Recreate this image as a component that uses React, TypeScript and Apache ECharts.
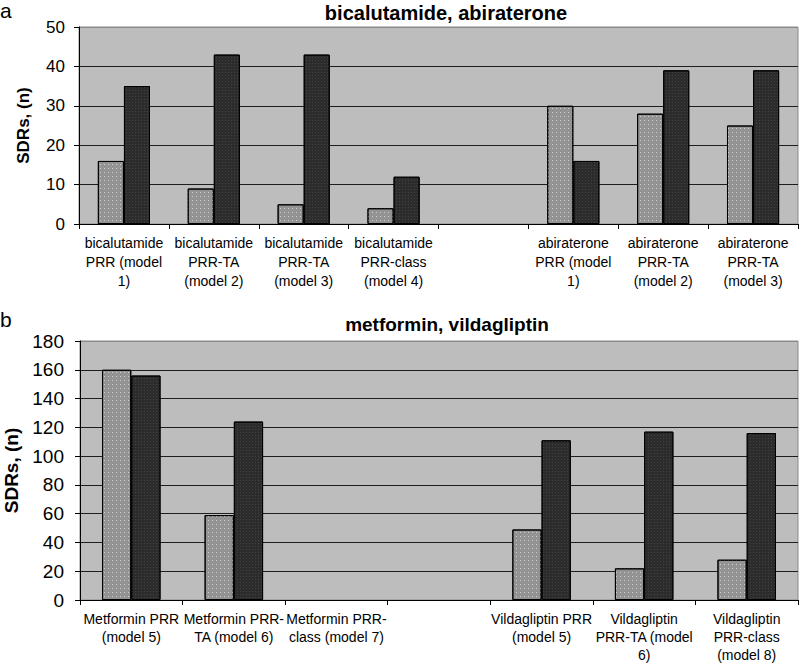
import React, { useEffect, useRef } from "react";
import * as echarts from "echarts";

const topCategories = [
  "bicalutamide\nPRR (model\n1)",
  "bicalutamide\nPRR-TA\n(model 2)",
  "bicalutamide\nPRR-TA\n(model 3)",
  "bicalutamide\nPRR-class\n(model 4)",
  "",
  "abiraterone\nPRR (model\n1)",
  "abiraterone\nPRR-TA\n(model 2)",
  "abiraterone\nPRR-TA\n(model 3)",
];
const topLight = [16, 9, 5, 4, null, 30, 28, 25];
const topDark = [35, 43, 43, 12, null, 16, 39, 39];

const bottomCategories = [
  "Metformin PRR\n(model 5)",
  "Metformin PRR-\nTA (model 6)",
  "Metformin PRR-\nclass (model 7)",
  "",
  "Vildagliptin PRR\n(model 5)",
  "Vildagliptin\nPRR-TA (model\n6)",
  "Vildagliptin\nPRR-class\n(model 8)",
];
const bottomLight = [160, 59, null, null, 49, 22, 28];
const bottomDark = [156, 124, null, null, 111, 117, 116];

const topTitle = "bicalutamide, abiraterone";
const bottomTitle = "metformin, vildagliptin";
const yName = "SDRs, (n)";

const FONT = 'Arial, "Liberation Sans", Helvetica, sans-serif';
const LIGHT = "#939393";
const DARK = "#2c2c2c";
const BG = "#bdbdbd";

const lightDecal = {
  symbol: "rect",
  symbolSize: 1,
  color: "rgba(255,255,255,0.55)",
  dashArrayX: [1, 3],
  dashArrayY: [1, 3],
  rotation: 0,
};
const darkDecal = {
  symbol: "rect",
  symbolSize: 1,
  color: "rgba(90,90,90,0.5)",
  dashArrayX: [1, 2],
  dashArrayY: [1, 2],
  rotation: 0,
};

export default function App() {
  const ref = useRef<HTMLDivElement>(null);
  useEffect(() => {
    if (!ref.current) return;
    const chart = echarts.init(ref.current, undefined, { renderer: "svg" });
    const splitColors = (n: number) => {
      const arr: string[] = [];
      for (let i = 0; i < n; i++) arr.push("#1e1e1e");
      arr.push("#8a8a8a");
      return arr;
    };
    const option: any = {
      animation: false,
      backgroundColor: "#ffffff",
      title: [
        {
          text: topTitle,
          left: 441,
          top: -2,
          textAlign: "center",
          textStyle: { fontFamily: FONT, fontSize: 20, fontWeight: "bold", color: "#000" },
        },
        {
          text: bottomTitle,
          left: 442,
          top: 310,
          textAlign: "center",
          textStyle: { fontFamily: FONT, fontSize: 19, fontWeight: "bold", color: "#000" },
        },
      ],
      graphic: [
        {
          type: "text",
          left: 0,
          top: 0,
          style: { text: "a", fontFamily: FONT, fontSize: 21, fill: "#000" },
        },
        {
          type: "text",
          left: 0,
          top: 309,
          style: { text: "b", fontFamily: FONT, fontSize: 21, fill: "#000" },
        },
      ],
      grid: [
        {
          left: 79,
          top: 27,
          width: 719,
          height: 197,
          show: true,
          outerBoundsMode: "none",
          containLabel: false,
          backgroundColor: BG,
          borderColor: "#8a8a8a",
          borderWidth: 1,
        },
        {
          left: 80,
          top: 341,
          width: 718,
          height: 259,
          show: true,
          outerBoundsMode: "none",
          containLabel: false,
          backgroundColor: BG,
          borderColor: "#8a8a8a",
          borderWidth: 1,
        },
      ],
      xAxis: [
        {
          type: "category",
          gridIndex: 0,
          data: topCategories,
          axisLine: { lineStyle: { color: "#000", width: 1 } },
          axisTick: { show: true, alignWithLabel: false, length: 5, lineStyle: { color: "#000" } },
          axisLabel: {
            interval: 0,
            margin: 9,
            fontFamily: FONT,
            fontSize: 14,
            lineHeight: 19,
            color: "#000",
          },
        },
        {
          type: "category",
          gridIndex: 1,
          data: bottomCategories,
          axisLine: { lineStyle: { color: "#000", width: 1 } },
          axisTick: { show: true, alignWithLabel: false, length: 5, lineStyle: { color: "#000" } },
          axisLabel: {
            interval: 0,
            margin: 10,
            fontFamily: FONT,
            fontSize: 14,
            lineHeight: 18,
            color: "#000",
          },
        },
      ],
      yAxis: [
        {
          type: "value",
          gridIndex: 0,
          min: 0,
          max: 50,
          interval: 10,
          name: yName,
          nameLocation: "middle",
          nameGap: 47,
          nameTextStyle: { fontFamily: FONT, fontSize: 17, fontWeight: "bold", color: "#000" },
          axisLine: { show: true, lineStyle: { color: "#000" } },
          axisTick: { show: true, length: 5, lineStyle: { color: "#000" } },
          axisLabel: { margin: 14, fontFamily: FONT, fontSize: 17, color: "#000" },
          splitLine: { show: true, lineStyle: { color: splitColors(5), width: 1 } },
        },
        {
          type: "value",
          gridIndex: 1,
          min: 0,
          max: 180,
          interval: 20,
          name: yName,
          nameLocation: "middle",
          nameGap: 59,
          nameTextStyle: { fontFamily: FONT, fontSize: 19, fontWeight: "bold", color: "#000" },
          axisLine: { show: true, lineStyle: { color: "#000" } },
          axisTick: { show: true, length: 5, lineStyle: { color: "#000" } },
          axisLabel: { margin: 16, fontFamily: FONT, fontSize: 19, color: "#000" },
          splitLine: { show: true, lineStyle: { color: splitColors(9), width: 1 } },
        },
      ],
      series: [
        {
          type: "bar",
          xAxisIndex: 0,
          yAxisIndex: 0,
          data: topLight,
          barGap: "0%",
          barCategoryGap: "42%",
          itemStyle: { color: LIGHT, borderColor: "#000", borderWidth: 1, decal: lightDecal },
        },
        {
          type: "bar",
          xAxisIndex: 0,
          yAxisIndex: 0,
          data: topDark,
          barGap: "0%",
          barCategoryGap: "42%",
          itemStyle: { color: DARK, borderColor: "#000", borderWidth: 1, decal: darkDecal },
        },
        {
          type: "bar",
          xAxisIndex: 1,
          yAxisIndex: 1,
          data: bottomLight,
          barGap: "0%",
          barCategoryGap: "43%",
          itemStyle: { color: LIGHT, borderColor: "#000", borderWidth: 1, decal: lightDecal },
        },
        {
          type: "bar",
          xAxisIndex: 1,
          yAxisIndex: 1,
          data: bottomDark,
          barGap: "0%",
          barCategoryGap: "43%",
          itemStyle: { color: DARK, borderColor: "#000", borderWidth: 1, decal: darkDecal },
        },
      ],
    };
    chart.setOption(option);
    return () => chart.dispose();
  }, []);
  return (
    <div
      ref={ref}
      style={{ position: "fixed", left: 0, top: 0, width: 799, height: 663 }}
    />
  );
}
